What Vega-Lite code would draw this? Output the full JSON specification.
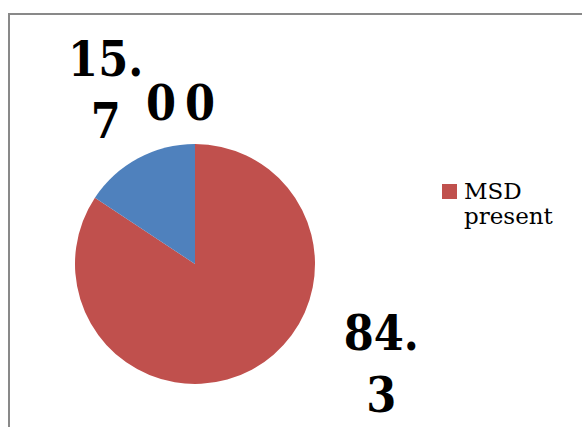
{
  "$schema": "https://vega.github.io/schema/vega-lite/v6.json",
  "width": 374,
  "height": 502,
  "autosize": {"type": "none"},
  "padding": {"left": 8, "top": 13, "right": 200, "bottom": 0},
  "background": "white",
  "config": {"view": {"stroke": null}},
  "data": {
    "values": [
      {"status": "MSD present", "value": 84.3, "label": "84.\n3", "idx": 1},
      {"status": "MSD absent", "value": 15.7, "label": "15.\n7", "idx": 2},
      {"status": "Category 3", "value": 0, "label": "0", "idx": 3},
      {"status": "Category 4", "value": 0, "label": "0", "idx": 4}
    ]
  },
  "encoding": {
    "theta": {"field": "value", "type": "quantitative", "stack": true},
    "order": {"field": "idx", "type": "quantitative"}
  },
  "layer": [
    {
      "mark": {"type": "arc", "outerRadius": 120, "stroke": null},
      "encoding": {
        "color": {
          "field": "status",
          "type": "nominal",
          "scale": {
            "domain": ["MSD present", "MSD absent", "Category 3", "Category 4"],
            "range": ["#C0504D", "#4F81BD", "#9BBB59", "#8064A2"]
          },
          "legend": {
            "values": ["MSD present"],
            "title": null,
            "orient": "none",
            "legendX": 430,
            "legendY": 167,
            "padding": 0,
            "symbolType": "square",
            "symbolSize": 225,
            "symbolStrokeWidth": 0,
            "symbolOpacity": 1,
            "labelFont": "DejaVu Serif",
            "labelFontSize": 23,
            "labelLineHeight": 31,
            "labelColor": "black",
            "labelOffset": 3,
            "labelLimit": 200,
            "labelBaseline": "middle",
            "labelExpr": "split(datum.label, ' ')"
          }
        }
      }
    },
    {
      "mark": {"type": "text", "radius": 195, "dx": 3, "dy": -30, "font": "DejaVu Serif Condensed", "fontWeight": "bold", "fontSize": 48, "lineHeight": 62, "lineBreak": "\n", "align": "center", "baseline": "middle", "color": "black"},
      "encoding": {
        "text": {"condition": {"test": "datum.status === 'MSD absent'", "field": "label"}, "value": ""}
      }
    },
    {
      "mark": {"type": "text", "radius": 195, "dx": 94, "dy": -100, "font": "DejaVu Serif Condensed", "fontWeight": "bold", "fontSize": 48, "lineHeight": 62, "lineBreak": "\n", "align": "center", "baseline": "middle", "color": "black"},
      "encoding": {
        "text": {"condition": {"test": "datum.status === 'MSD present'", "field": "label"}, "value": ""}
      }
    },
    {
      "mark": {"type": "text", "radius": 195, "dx": -34, "dy": 37, "font": "DejaVu Serif Condensed", "fontWeight": "bold", "fontSize": 48, "align": "center", "baseline": "middle", "color": "black"},
      "encoding": {
        "text": {"condition": {"test": "datum.status === 'Category 3'", "field": "label"}, "value": ""}
      }
    },
    {
      "mark": {"type": "text", "radius": 195, "dx": 5, "dy": 37, "font": "DejaVu Serif Condensed", "fontWeight": "bold", "fontSize": 48, "align": "center", "baseline": "middle", "color": "black"},
      "encoding": {
        "text": {"condition": {"test": "datum.status === 'Category 4'", "field": "label"}, "value": ""}
      }
    },
    {
      "data": {"values": [{}]},
      "mark": {"type": "rect", "fill": null, "stroke": "#898989", "strokeWidth": 2},
      "encoding": {
        "theta": null,
        "order": null,
        "x": {"value": 1},
        "x2": {"value": 800},
        "y": {"value": 1},
        "y2": {"value": 800}
      }
    }
  ]
}
